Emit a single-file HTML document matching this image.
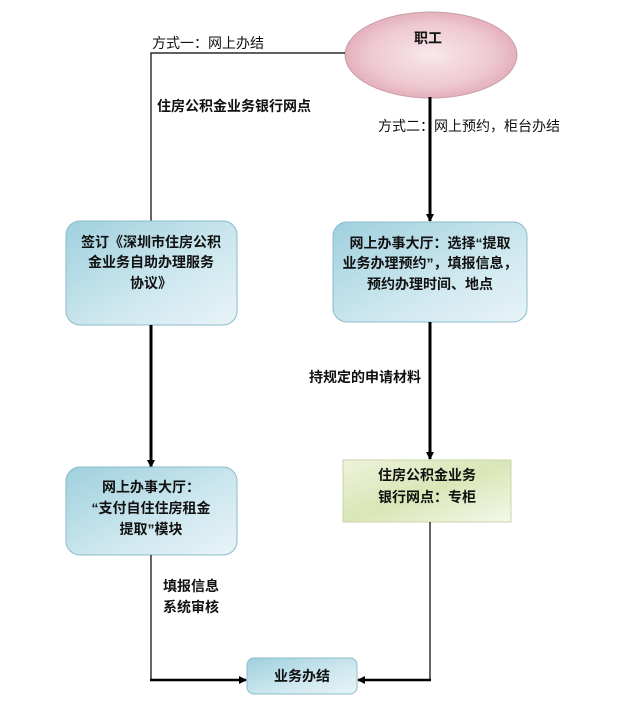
<!DOCTYPE html>
<html><head><meta charset="utf-8"><style>
html,body{margin:0;padding:0;background:#fff;}
svg{display:block;}
text{font-family:"Liberation Sans","Noto Sans CJK SC",sans-serif;font-weight:bold;font-size:14px;fill:#111;}
</style></head><body>
<svg width="619" height="706" viewBox="0 0 619 706" xmlns="http://www.w3.org/2000/svg">
<defs>
<radialGradient id="pink" cx="0.5" cy="0.5" r="0.6">
<stop offset="0" stop-color="#f8e8ec"/><stop offset="0.6" stop-color="#eec8d0"/><stop offset="1" stop-color="#dca0ae"/>
</radialGradient>
<linearGradient id="blue" x1="0" y1="0" x2="1" y2="1">
<stop offset="0" stop-color="#9fd0de"/><stop offset="0.6" stop-color="#cfe8ef"/><stop offset="1" stop-color="#e8f4f7"/>
</linearGradient>
<linearGradient id="green" x1="0" y1="0" x2="1" y2="1">
<stop offset="0" stop-color="#eef3dc"/><stop offset="0.5" stop-color="#d9e6b6"/><stop offset="1" stop-color="#f4f7ea"/>
</linearGradient>
<marker id="ah" markerWidth="8" markerHeight="8" refX="7" refY="4" orient="auto" markerUnits="userSpaceOnUse">
<path d="M0,0 L8,4 L0,8 z" fill="#000"/>
</marker>
</defs>

<!-- ellipse -->
<ellipse cx="431" cy="55" rx="86" ry="43" fill="url(#pink)" stroke="#c9a0a8" stroke-width="1"/>
<text x="428" y="43" text-anchor="middle">职工</text>

<!-- left connector -->
<polyline points="345,53 151,53 151,222" fill="none" stroke="#000" stroke-width="1.2"/>
<text x="152" y="48" style="font-weight:normal">方式一：网上办结</text>
<text x="157" y="111">住房公积金业务银行网点</text>

<!-- right connector -->
<line x1="430" y1="97" x2="430" y2="221" stroke="#000" stroke-width="3" marker-end="url(#ah)"/>
<text x="378" y="131" style="font-weight:normal">方式二：网上预约，柜台办结</text>

<!-- left box 1 -->
<rect x="66" y="221" width="171" height="104" rx="14" fill="url(#blue)" stroke="#8bbccc" stroke-width="1"/>
<text x="151" y="247" text-anchor="middle">签订《深圳市住房公积</text>
<text x="151" y="267" text-anchor="middle">金业务自助办理服务</text>
<text x="151" y="288" text-anchor="middle">协议》</text>

<!-- right box 1 -->
<rect x="333" y="222" width="194" height="100" rx="14" fill="url(#blue)" stroke="#8bbccc" stroke-width="1"/>
<text x="430" y="248" text-anchor="middle">网上办事大厅：选择“提取</text>
<text x="430" y="268" text-anchor="middle">业务办理预约”，填报信息，</text>
<text x="430" y="289" text-anchor="middle">预约办理时间、地点</text>

<!-- left thick down -->
<line x1="151" y1="325" x2="151" y2="467" stroke="#000" stroke-width="3" marker-end="url(#ah)"/>
<!-- right thick down -->
<line x1="430" y1="322" x2="430" y2="459" stroke="#000" stroke-width="3" marker-end="url(#ah)"/>
<text x="309" y="382">持规定的申请材料</text>

<!-- left box 2 -->
<rect x="66" y="467" width="171" height="88" rx="14" fill="url(#blue)" stroke="#8bbccc" stroke-width="1"/>
<text x="151" y="492" text-anchor="middle">网上办事大厅：</text>
<text x="151" y="513" text-anchor="middle">“支付自住住房租金</text>
<text x="151" y="534" text-anchor="middle">提取”模块</text>

<!-- green box -->
<rect x="343" y="460" width="168" height="62" fill="url(#green)" stroke="#c8d4a8" stroke-width="1"/>
<text x="427" y="480" text-anchor="middle">住房公积金业务</text>
<text x="427" y="502" text-anchor="middle">银行网点：专柜</text>

<!-- bottom connectors -->
<polyline points="151,555 151,680" fill="none" stroke="#000" stroke-width="1.2"/>
<line x1="150" y1="680" x2="246" y2="680" stroke="#000" stroke-width="2.5" marker-end="url(#ah)"/>
<polyline points="430,522 430,680" fill="none" stroke="#000" stroke-width="1.2"/>
<line x1="431" y1="680" x2="358" y2="680" stroke="#000" stroke-width="2.5" marker-end="url(#ah)"/>
<text x="163" y="591">填报信息</text>
<text x="163" y="612">系统审核</text>

<!-- final box -->
<rect x="247" y="658" width="110" height="36" rx="7" fill="url(#blue)" stroke="#8bbccc" stroke-width="1"/>
<text x="302" y="681" text-anchor="middle">业务办结</text>
</svg>
</body></html>
